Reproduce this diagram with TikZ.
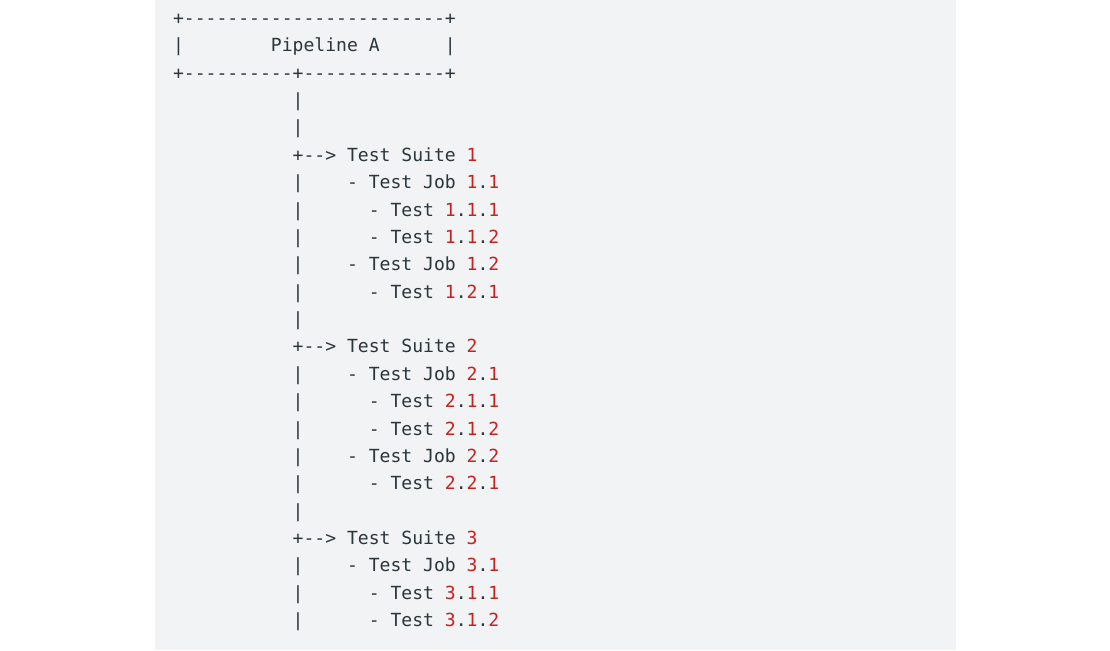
\documentclass[tikz,border=0pt]{standalone}
\usepackage{fontspec}
\usepackage{xcolor}
\setmonofont{DejaVu Sans Mono}
\definecolor{codebg}{HTML}{F1F3F4}
\definecolor{codetext}{HTML}{2A363C}
\definecolor{codenum}{HTML}{C5221F}
\newcommand{\nr}[1]{\textcolor{codenum}{#1}}

\begin{document}
\begin{tikzpicture}[x=1pt, y=-1pt,
    ascii/.style={font=\ttfamily\fontsize{18.06}{20}\selectfont, text=codetext,
      anchor=base west, inner sep=0pt}]
  \useasboundingbox (0, 0) rectangle (1110, 650);
  % Draw code background.
  \fill [codebg] (155, 0) rectangle (956, 650);

  % Draw pipeline box.
  \node [ascii] (boxtop) at (172.9, 24.6) {+------------------------+};
  \node [ascii] (boxmid) at (172.9, 52.0) {|~~~~~~~~Pipeline A~~~~~~|};
  \node [ascii] (boxbot) at (172.9, 79.3) {+----------+-------------+};

  \begin{scope}[xshift=119.6pt]
    % Draw trunk down to suite 1.
    \node [ascii] (trunka) at (172.9, 106.7) {|};
    \node [ascii] (trunkb) at (172.9, 134.0) {|};

    % Draw suite 1.
    \node [ascii] (suitea) at (172.9, 161.4) {+-->~Test Suite \nr{1}};
    \node [ascii] (joba) at (172.9, 188.8) {|~~~~-~Test Job \nr{1}.\nr{1}};
    \node [ascii] (testaaa) at (172.9, 216.1) {|~~~~~~-~Test \nr{1}.\nr{1}.\nr{1}};
    \node [ascii] (testaab) at (172.9, 243.5) {|~~~~~~-~Test \nr{1}.\nr{1}.\nr{2}};
    \node [ascii] (jobb) at (172.9, 270.8) {|~~~~-~Test Job \nr{1}.\nr{2}};
    \node [ascii] (testaba) at (172.9, 298.2) {|~~~~~~-~Test \nr{1}.\nr{2}.\nr{1}};
    \node [ascii] (trunkc) at (172.9, 325.6) {|};

    % Draw suite 2.
    \node [ascii] (suiteb) at (172.9, 352.9) {+-->~Test Suite \nr{2}};
    \node [ascii] (jobc) at (172.9, 380.3) {|~~~~-~Test Job \nr{2}.\nr{1}};
    \node [ascii] (testbaa) at (172.9, 407.6) {|~~~~~~-~Test \nr{2}.\nr{1}.\nr{1}};
    \node [ascii] (testbab) at (172.9, 435.0) {|~~~~~~-~Test \nr{2}.\nr{1}.\nr{2}};
    \node [ascii] (jobd) at (172.9, 462.4) {|~~~~-~Test Job \nr{2}.\nr{2}};
    \node [ascii] (testbba) at (172.9, 489.7) {|~~~~~~-~Test \nr{2}.\nr{2}.\nr{1}};
    \node [ascii] (trunkd) at (172.9, 517.1) {|};

    % Draw suite 3.
    \node [ascii] (suitec) at (172.9, 544.4) {+-->~Test Suite \nr{3}};
    \node [ascii] (jobe) at (172.9, 571.8) {|~~~~-~Test Job \nr{3}.\nr{1}};
    \node [ascii] (testcaa) at (172.9, 599.2) {|~~~~~~-~Test \nr{3}.\nr{1}.\nr{1}};
    \node [ascii] (testcab) at (172.9, 626.5) {|~~~~~~-~Test \nr{3}.\nr{1}.\nr{2}};
  \end{scope}
\end{tikzpicture}
\end{document}
